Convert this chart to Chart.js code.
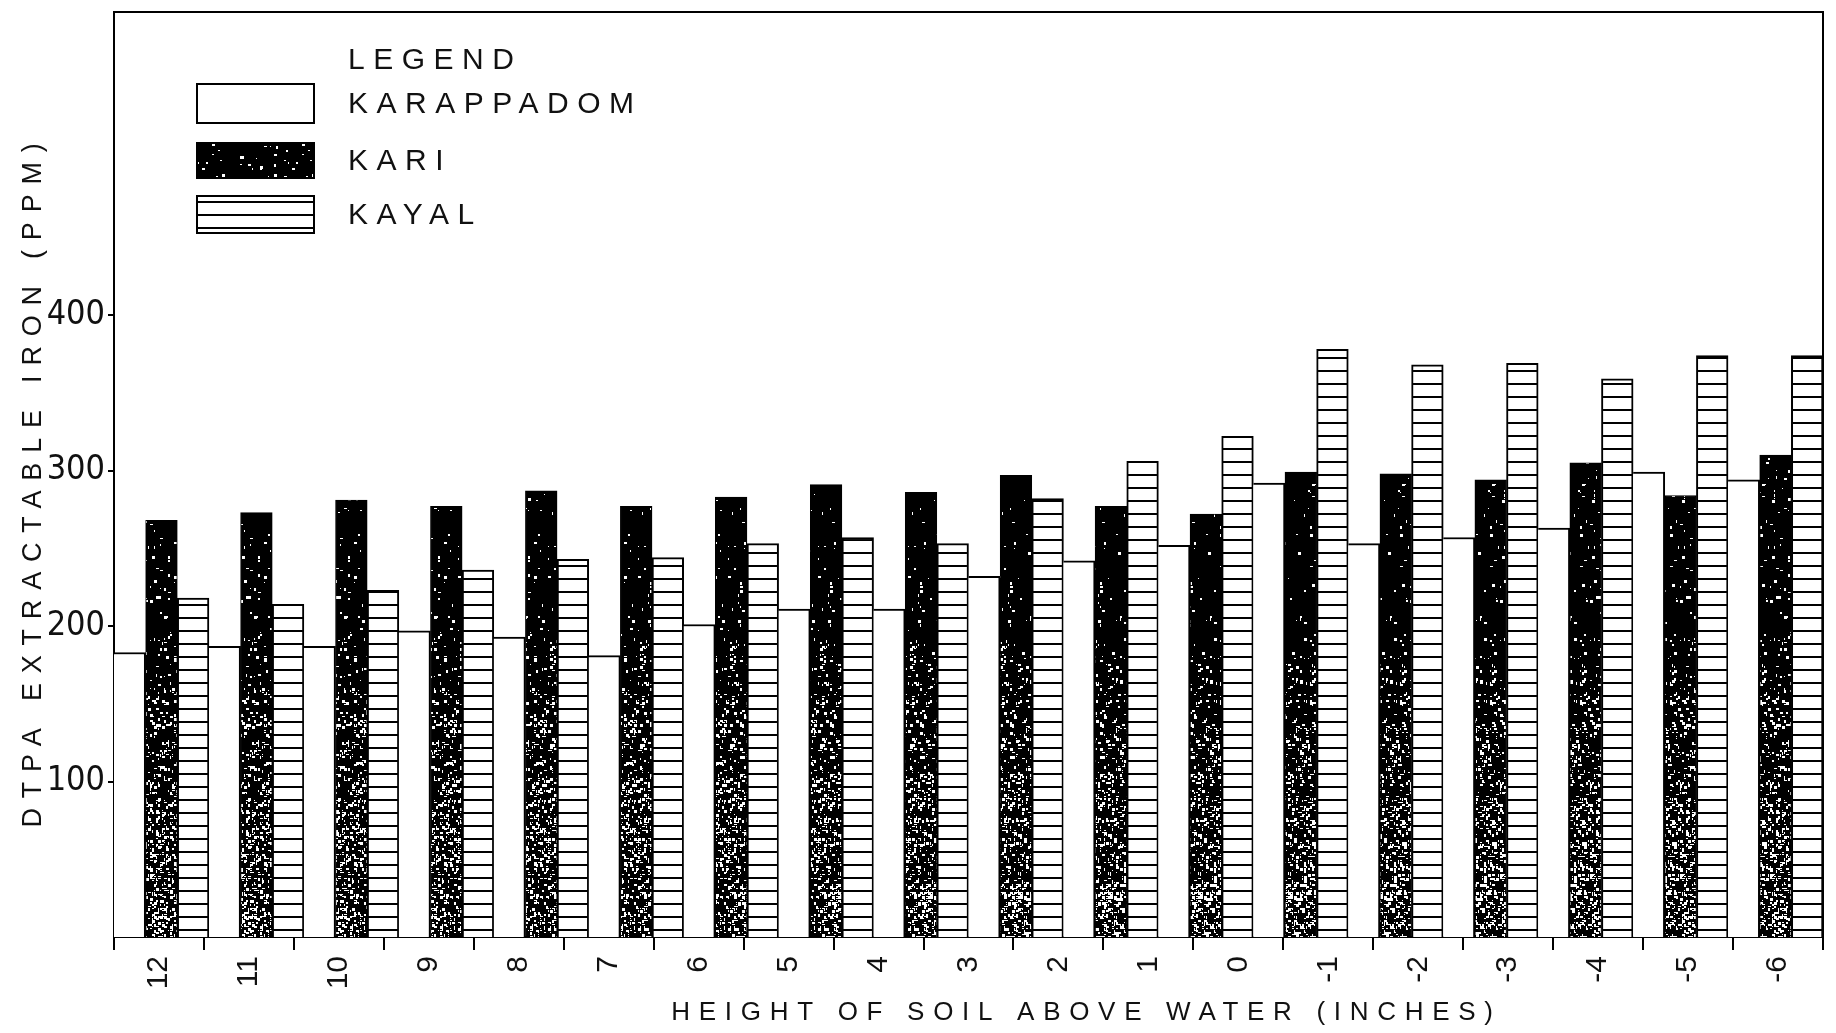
<!DOCTYPE html>
<html>
<head>
<meta charset="utf-8">
<title>DTPA extractable iron by height of soil above water</title>
<script src="https://cdn.jsdelivr.net/npm/chart.js@4.4.1/dist/chart.umd.min.js"></script>
<style>
  html, body { margin: 0; padding: 0; background: #fff; }
  canvas { display: block; }
</style>
</head>
<body>
<canvas id="chart" width="1836" height="1033"></canvas>
<script>
// Height of soil above water (inches), one tick per band boundary
const heightTicks = ['12', '11', '10', '9', '8', '7', '6', '5', '4', '3', '2', '1', '0', '-1', '-2', '-3', '-4', '-5', '-6'];

// DTPA extractable iron (ppm) for each height band, left to right
const karappadom = [183, 187, 187, 197, 193, 181, 201, 211, 211, 232, 242, 252, 292, 253, 257, 263, 299, 294];
const kari       = [268, 273, 281, 277, 287, 277, 283, 291, 286, 297, 277, 272, 299, 298, 294, 305, 284, 310];
const kayal      = [218, 214, 223, 236, 243, 244, 253, 257, 253, 282, 306, 322, 378, 368, 369, 359, 374, 374];

const seriesNames = ['KARAPPADOM', 'KARI', 'KAYAL'];

// Iron axis ticks
const ironTicks = [100, 200, 300, 400];
const ironTickLabels = ['100', '200', '300', '400'];

// One category per band between two neighbouring height ticks
const bands = heightTicks.slice(0, -1).map((t, i) => t + ' to ' + heightTicks[i + 1]);

const canvas = document.getElementById('chart');
const ctx = canvas.getContext('2d');

// Black stipple, more white specks towards the bottom of the page
function stipplePattern(c2d, h) {
  const w = 90;
  const tile = document.createElement('canvas');
  tile.width = w; tile.height = h;
  const g = tile.getContext('2d');
  g.fillStyle = '#000';
  g.fillRect(0, 0, w, h);
  g.fillStyle = '#fff';
  let seed = 12345;
  const next = () => { seed = (seed * 16807) % 2147483647; return seed / 2147483647; };
  for (let y = 0; y < h; y += 2) {
    const t = Math.min(1, Math.max(0, (y - 620) / 280));
    const p = 0.03 + 0.30 * t;
    for (let x = 0; x < w; x += 2) {
      if (next() < p) {
        g.fillRect(x, y, 1 + Math.floor(next() * 3), 1 + Math.floor(next() * 3));
      }
    }
  }
  return c2d.createPattern(tile, 'repeat');
}

// White with horizontal rules
function hatchPattern(c2d) {
  const tile = document.createElement('canvas');
  tile.width = 8; tile.height = 13;
  const g = tile.getContext('2d');
  g.fillStyle = '#fff';
  g.fillRect(0, 0, 8, 13);
  g.fillStyle = '#000';
  g.fillRect(0, 6, 8, 2);
  return c2d.createPattern(tile, 'repeat');
}

const stipple = stipplePattern(ctx, 1033);
const hatch = hatchPattern(ctx);

const LETTERING = '"Liberation Sans", "DejaVu Sans", sans-serif';

// Axis titles drawn with wide lettering
const spacedTitles = {
  id: 'spacedTitles',
  beforeDraw(chart, args, opts) {
    opts.items.forEach(({ id, spacing, dx, dy }) => {
      const s = chart.scales[id];
      if (!s || s._spacedTitle) return;
      const base = s.drawTitle.bind(s);
      s.drawTitle = function () {
        const c = this.ctx;
        c.save();
        c.letterSpacing = spacing + 'px';
        c.translate(dx, dy);
        base();
        c.restore();
      };
      s._spacedTitle = true;
    });
  }
};

// Closing frame along the top and right of the plot
const plotFrame = {
  id: 'plotFrame',
  afterDatasetsDraw(chart) {
    const { ctx: c, chartArea: a } = chart;
    c.save();
    c.strokeStyle = '#000';
    c.lineWidth = 2;
    c.beginPath();
    c.moveTo(a.left, a.top);
    c.lineTo(a.right, a.top);
    c.lineTo(a.right, a.bottom);
    c.stroke();
    c.restore();
  }
};

// Boxed key in the upper left of the plot
const keyBlock = {
  id: 'keyBlock',
  afterDraw(chart) {
    const { ctx: c, chartArea: a } = chart;
    const ds = chart.data.datasets;
    const boxX = a.left + 83, boxW = 117, textX = a.left + 234;
    const rows = [[72, 39], [131, 35], [184, 37]];
    c.save();
    c.letterSpacing = '8.5px';
    c.font = '30px ' + LETTERING;
    c.textBaseline = 'middle';
    c.fillStyle = '#111';
    c.fillText('LEGEND', textX, a.top + 49);
    ds.forEach((d, i) => {
      const y = a.top + rows[i][0], h = rows[i][1];
      c.fillStyle = d.backgroundColor;
      c.fillRect(boxX, y, boxW, h);
      c.lineWidth = 2;
      c.strokeStyle = '#000';
      c.strokeRect(boxX, y, boxW, h);
      c.fillStyle = '#111';
      c.fillText(d.label, textX, y + h / 2 + 1);
    });
    c.restore();
  }
};

new Chart(ctx, {
  type: 'bar',
  data: {
    labels: bands,
    datasets: [
      { label: seriesNames[0], data: karappadom, xAxisID: 'x', yAxisID: 'y',
        backgroundColor: '#fff', borderColor: '#000',
        borderWidth: { top: 2, right: 2, left: 0, bottom: 0 } },
      { label: seriesNames[1], data: kari, xAxisID: 'x', yAxisID: 'y',
        backgroundColor: stipple, borderColor: '#000', borderWidth: 1 },
      { label: seriesNames[2], data: kayal, xAxisID: 'x', yAxisID: 'y',
        backgroundColor: hatch, borderColor: '#000', borderWidth: 2 }
    ]
  },
  options: {
    responsive: false,
    animation: false,
    events: [],
    layout: { padding: { top: 12, right: 13, left: 0, bottom: 0 } },
    datasets: { bar: { categoryPercentage: 1, barPercentage: 1 } },
    plugins: {
      legend: { display: false },
      tooltip: { enabled: false },
      spacedTitles: { items: [
        { id: 'xh', spacing: 8.7, dx: 118, dy: 0 },
        { id: 'y', spacing: 9.8, dx: 0, dy: 6 }
      ] }
    },
    scales: {
      x: { type: 'category', display: false, offset: true },
      xh: {
        type: 'linear', position: 'bottom', min: 0, max: 18,
        afterFit(s) { s.height = 96; s.paddingLeft = 0; s.paddingRight = 0; },
        ticks: {
          stepSize: 1, autoSkip: false, minRotation: 90, maxRotation: 90,
          padding: 6, color: '#111',
          font: { family: LETTERING, size: 30 },
          callback: (v, i) => heightTicks[i]
        },
        grid: { drawOnChartArea: false, drawTicks: true, tickLength: 13, color: '#000', lineWidth: 2 },
        border: { display: true, color: '#000', width: 2 },
        title: {
          display: true, text: 'HEIGHT OF SOIL ABOVE WATER (INCHES)', color: '#111',
          font: { family: LETTERING, size: 26 }, padding: { top: 0, bottom: 5 }
        }
      },
      y: {
        type: 'linear', position: 'left', min: 0, max: 595,
        afterFit(s) { s.width = 114; s.paddingTop = 0; s.paddingBottom = 0; },
        afterBuildTicks(s) { s.ticks = ironTicks.map(v => ({ value: v })); },
        ticks: {
          padding: 3, color: '#111',
          font: { family: '"Liberation Sans Narrow", "DejaVu Sans Condensed", sans-serif', size: 34 },
          callback: (v, i) => ironTickLabels[i]
        },
        grid: { drawOnChartArea: false, drawTicks: true, tickLength: 6, color: '#000', lineWidth: 2 },
        border: { display: true, color: '#000', width: 2 },
        title: {
          display: true, text: 'DTPA EXTRACTABLE IRON (PPM)', color: '#111',
          font: { family: LETTERING, size: 27 }, padding: { top: 17, bottom: 0 }
        }
      }
    }
  },
  plugins: [spacedTitles, plotFrame, keyBlock]
});
</script>
</body>
</html>
